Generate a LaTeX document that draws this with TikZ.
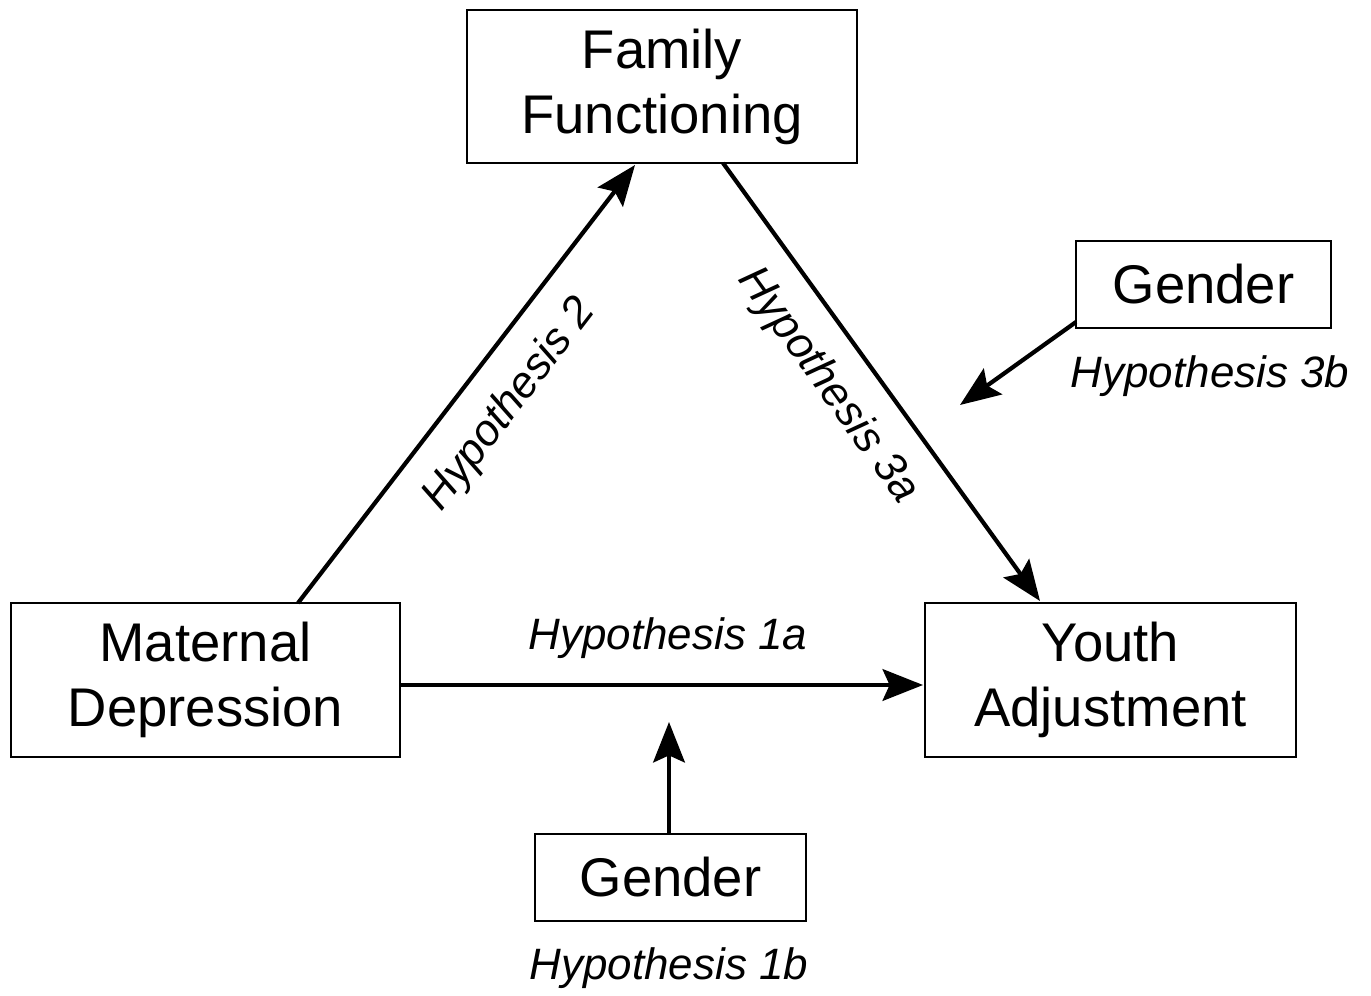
\documentclass[tikz,border=0pt]{standalone}
\usepackage{fontspec}
\setmainfont{Liberation Sans}
\usetikzlibrary{arrows.meta}
\begin{document}
\begin{tikzpicture}[x=0.02cm,y=-0.02cm,
  box/.style={draw,line width=1.6pt,fill=white,inner sep=0pt,align=center,font=\fontsize{31}{37}\selectfont},
  hyp/.style={font=\fontsize{25}{30}\selectfont\itshape,inner sep=0pt},
  arr/.style={line width=2.4pt,-{Stealth[length=23pt,width=18pt,inset=4pt]}}]
\path[use as bounding box] (0,0) rectangle (1371,996);
\node[box,minimum width=7.8cm,minimum height=3.06cm] (ff) at (662,86.5) {Family\\Functioning};
\node[box,minimum width=5.1cm,minimum height=1.74cm] (g1) at (1203.5,284.5) {Gender};
\node[box,minimum width=7.78cm,minimum height=3.08cm] (md) at (205.5,680) {Maternal\\Depression};
\node[box,minimum width=7.42cm,minimum height=3.08cm] (ya) at (1110.5,680) {Youth\\Adjustment};
\node[box,minimum width=5.42cm,minimum height=1.74cm] (g2) at (670.5,877.5) {Gender};
\coordinate (a1s) at (298,603);
\coordinate (a1e) at (635,165);
\coordinate (a2s) at (723,163);
\coordinate (a2e) at (1040,601);
\coordinate (a3s) at (400,685);
\coordinate (a3e) at (923,685);
\coordinate (a4s) at (669,834);
\coordinate (a4e) at (669,722);
\coordinate (a5s) at (1076,322);
\coordinate (a5e) at (960,405);
\draw[arr] (a1s) -- (a1e);
\draw[arr] (a2s) -- (a2e);
\draw[arr] (a3s) -- (a3e);
\draw[arr] (a4s) -- (a4e);
\draw[arr] (a5s) -- (a5e);
\node[hyp,rotate=52.5] (h2) at (510,405) {Hypothesis 2};
\node[hyp,rotate=-54.2] (h3a) at (828,386) {Hypothesis 3a};
\node[hyp] (h1a) at (668,638) {Hypothesis 1a};
\node[hyp] (h3b) at (1210,376) {Hypothesis 3b};
\node[hyp] (h1b) at (669,968) {Hypothesis 1b};
\end{tikzpicture}
\end{document}
